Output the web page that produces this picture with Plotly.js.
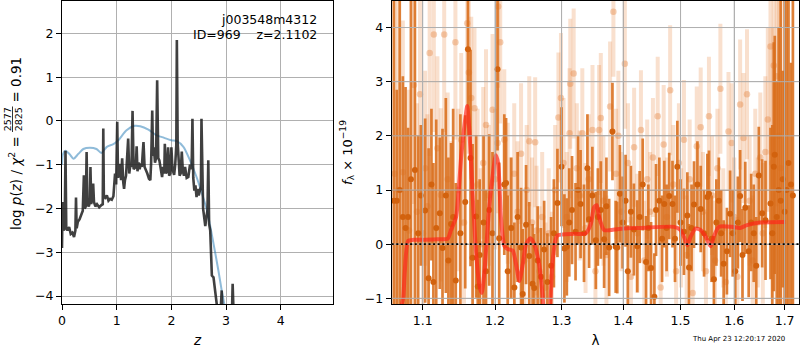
<!DOCTYPE html>
<html>
<head>
<meta charset="utf-8">
<script src="https://cdn.plot.ly/plotly-3.0.1.min.js"></script>
<style>html,body{margin:0;padding:0;background:#fff;}#chart{width:800px;height:350px;}</style>
</head>
<body>
<div id="chart"></div>
<script>
// ---------- left panel: log p(z) ----------
const zPz = [0.00,0.01,0.02,0.035,0.05,0.064,0.078,0.10,0.13,0.16,0.19,0.22,0.245,0.256,0.268,0.29,0.32,0.35,0.38,0.40,0.415,0.435,0.45,0.465,0.49,0.51,0.52,0.535,0.555,0.57,0.585,0.61,0.64,0.68,0.72,0.745,0.755,0.765,0.79,0.82,0.85,0.88,0.91,0.94,0.97,0.99,1.01,1.025,1.045,1.06,1.08,1.10,1.12,1.135,1.15,1.17,1.19,1.21,1.23,1.25,1.27,1.29,1.31,1.335,1.35,1.365,1.38,1.40,1.42,1.44,1.46,1.475,1.49,1.51,1.53,1.56,1.59,1.615,1.63,1.65,1.665,1.68,1.70,1.72,1.74,1.76,1.78,1.81,1.83,1.85,1.87,1.88,1.90,1.92,1.94,1.96,1.98,2.00,2.02,2.05,2.07,2.09,2.10,2.115,2.13,2.15,2.17,2.19,2.21,2.23,2.25,2.28,2.31,2.34,2.37,2.385,2.40,2.42,2.44,2.46,2.48,2.50,2.52,2.54,2.55,2.565,2.58,2.60,2.62,2.64,2.66,2.675,2.69,2.71,2.74,2.77,2.80,2.83,2.86,2.89,2.92,2.935,2.95,2.98,3.02,3.06,3.10,3.12,3.135,3.15,3.18,3.25];
const logPz = [-2.9,-1.85,-2.45,-2.5,-2.4,-0.68,-2.45,-2.5,-2.42,-2.58,-2.55,-2.65,-2.5,-1.75,-2.45,-2.3,-2.25,-2.15,-2.05,-1.24,-2.0,-1.95,-0.71,-1.9,-1.95,-1.85,-1.05,-1.9,-1.7,-1.43,-1.85,-1.95,-1.9,-1.97,-1.92,-1.9,-0.17,-1.7,-1.75,-1.7,-1.82,-1.78,-1.8,-1.72,-1.2,-1.45,-0.02,-1.3,-1.1,-0.98,-1.35,-0.85,-1.4,-1.55,-1.36,-1.25,-0.85,-0.4,-1.2,-0.99,-1.05,0.23,-1.1,-1.05,-1.05,-0.58,-1.15,-0.95,-1.1,-0.97,-1.05,-0.75,-0.48,-1.05,-1.1,-1.2,-1.32,-1.35,-0.95,0.24,-0.8,-0.6,-0.95,-0.85,0.93,-0.85,-0.9,-1.2,-1.28,-1.05,-1.2,-0.52,-1.2,-1.15,-0.6,-1.25,-1.2,-0.6,-1.1,-1.23,-1.0,-0.55,1.85,-0.5,-0.9,-1.25,-1.2,-0.7,-1.15,-1.25,-1.05,-1.3,-1.28,-1.0,-1.1,0.05,-1.3,-1.59,-1.47,-1.74,-1.55,-1.7,-1.6,-1.5,0.05,-1.4,-2.0,-2.2,-2.4,-2.2,-2.04,-0.9,-2.35,-2.5,-3.53,-3.57,-3.95,-4.25,-4.5,-4.6,-3.87,-4.4,-4.8,-5.0,-5.0,-5.0,-4.8,-3.72,-4.3,-5.0,-6.0,-8.0];
const zPrior = [0.00,0.02,0.06,0.14,0.21,0.30,0.39,0.51,0.63,0.72,0.82,0.94,1.03,1.18,1.33,1.43,1.58,1.73,1.83,2.00,2.10,2.22,2.34,2.46,2.56,2.65,2.77,2.86,2.92,2.97,3.05];
const logPrior = [-1.0,-0.75,-0.68,-0.76,-0.86,-0.75,-0.64,-0.61,-0.64,-0.73,-0.59,-0.53,-0.44,-0.21,-0.11,-0.12,-0.2,-0.33,-0.37,-0.44,-0.46,-0.59,-0.9,-1.28,-1.66,-2.04,-2.8,-3.42,-3.87,-4.2,-4.8];
const zTicks = [0,1,2,3,4];
const pzTicks = [-4,-3,-2,-1,0,1,2];

// ---------- right panel: spectrum ----------
const lamDark = [1.0625,1.0662,1.0700,1.0740,1.0775,1.0808,1.0845,1.0897,1.094,1.0975,1.1032,1.1078,1.1116,1.1142,1.118,1.1228,1.1265,1.131,1.1345,1.1381,1.141,1.1446,1.151,1.1577,1.1615,1.1651,1.168,1.173,1.1753,1.178,1.1835,1.187,1.1916,1.1963,1.2036,1.206,1.2134,1.216,1.2184,1.2235,1.2282,1.2330,1.2381,1.2406,1.2456,1.2504,1.2554,1.2579,1.263,1.268,1.273,1.278,1.2837,1.288,1.2935,1.2999,1.3044,1.3082,1.312,1.3164,1.322,1.326,1.33,1.3355,1.341,1.3437,1.349,1.3546,1.358,1.3628,1.3682,1.372,1.3765,1.382,1.3874,1.39,1.3944,1.399,1.404,1.4078,1.413,1.4181,1.4239,1.428,1.4332,1.439,1.443,1.4477,1.4535,1.4564,1.4622,1.467,1.4709,1.475,1.4797,1.4855,1.490,1.4942,1.500,1.5061,1.5123,1.5153,1.520,1.5245,1.5307,1.5368,1.543,1.5492,1.5522,1.557,1.5614,1.566,1.5706,1.575,1.5798,1.586,1.5921,1.597,1.602,1.607,1.6114,1.616,1.6214,1.6281,1.633,1.638,1.643,1.648,1.6547,1.6614,1.6714,1.675,1.678,1.68,1.684,1.688,1.692,1.696,1.700,1.704,1.708,1.713,1.717];
const fluxDark = [0.8,0.8,1.0,0.5,0.3,0.5,1.2,1.37,0.2,0.9,0.62,-0.63,1.1,-0.7,0.3,0.57,-0.07,0.9,-0.3,0.37,0.5,-0.67,0.2,0.78,3.6,1.59,-0.25,0.51,-0.78,-0.2,0.4,-0.5,0.63,0.2,3.23,0.11,1.1,1.13,-0.5,0.3,-0.8,0.5,-0.06,-0.92,0.36,-0.22,-0.73,-0.81,-0.3,-0.6,-0.1,-0.7,-0.4,0.2,0.76,1.43,-0.08,-0.05,0.4,0.63,0.23,1.0,0.74,0.2,1.4,0.46,0.9,0.07,0.5,0.63,0.09,0.7,-0.06,2.08,-0.05,-0.06,0.93,0.4,0.8,-0.5,0.6,0.27,-0.04,0.5,1.1,-0.33,0.3,-0.44,-0.97,0.63,0.8,0.1,0.74,0.3,0.89,0.74,0.1,1.43,0.4,0.23,0.53,-0.43,0.3,0.73,1.1,0.65,0.2,0.87,0.93,0.1,-0.65,0.4,0.8,0.2,-0.36,-0.13,0.56,0.2,-0.5,0.4,0.89,-0.2,0.67,-0.13,0.4,0.2,-0.4,1.27,0.57,0.44,0.75,0.2,1.43,1.65,0.5,1.0,0.8,1.2,0.6,1.0,1.5,1.1,0.9];
const errDark = [4.5,2.05,4.5,2.6,2.6,1.65,4.0,3.4,1.8,1.3,1.7,2.4,1.4,2.2,2.0,1.4,2.2,1.8,1.9,1.5,2.0,1.8,2.2,1.6,1.6,2.0,2.1,1.5,1.6,1.4,1.6,1.5,1.4,1.5,1.5,1.4,1.3,1.2,1.4,1.3,1.2,1.2,1.1,1.2,1.1,1.0,1.1,1.0,1.0,0.9,0.9,0.9,0.9,1.0,1.0,1.1,1.0,0.9,1.0,1.0,0.9,1.0,1.0,0.9,1.0,0.9,0.9,0.9,0.9,0.9,0.9,0.9,0.9,0.9,0.85,0.85,0.9,0.85,0.85,0.85,0.85,0.85,0.85,0.85,0.85,0.85,0.8,0.85,0.8,0.85,0.8,0.8,0.8,0.8,0.8,0.8,0.8,0.85,0.8,0.8,0.8,0.8,0.8,0.8,0.8,0.8,0.8,0.8,0.8,0.8,0.8,0.8,0.8,0.8,0.8,0.8,0.8,0.8,0.85,0.85,0.85,0.85,0.85,0.85,0.9,0.9,0.9,0.9,1.0,1.1,1.4,2.0,2.3,2.2,2.5,3.0,4.5,2.0,5.0,5.0,5.0,2.25,5.0];

const lamLight = [1.0635,1.068,1.074,1.082,1.0884,1.0925,1.0964,1.1003,1.1032,1.1062,1.1092,1.1148,1.1196,1.1242,1.1288,1.1335,1.1385,1.1441,1.148,1.1521,1.156,1.1605,1.1628,1.1661,1.1707,1.175,1.1795,1.183,1.187,1.191,1.1964,1.2,1.2036,1.2045,1.2075,1.2134,1.2184,1.223,1.228,1.233,1.2381,1.243,1.2465,1.2504,1.2545,1.2593,1.2614,1.266,1.270,1.275,1.28,1.285,1.29,1.295,1.299,1.303,1.308,1.3125,1.3136,1.319,1.324,1.3285,1.3328,1.338,1.343,1.3492,1.354,1.36,1.3628,1.367,1.372,1.3781,1.3836,1.388,1.3918,1.397,1.4028,1.408,1.413,1.4185,1.424,1.4302,1.436,1.441,1.446,1.451,1.4593,1.4645,1.4698,1.4755,1.4813,1.487,1.492,1.497,1.501,1.5061,1.511,1.5165,1.522,1.5295,1.5368,1.541,1.5465,1.5521,1.558,1.5635,1.568,1.5736,1.579,1.584,1.589,1.5952,1.6,1.606,1.6114,1.618,1.6248,1.63,1.636,1.641,1.646,1.651,1.656,1.661,1.666,1.6714,1.675,1.678,1.684,1.688,1.692];
const fluxLight = [1.3,1.0,1.33,0.25,2.94,0.6,2.77,0.2,1.4,0.7,3.53,3.87,1.77,0.91,3.87,1.2,0.3,3.73,1.0,1.93,0.4,4.08,3.17,2.7,2.51,1.1,0.0,1.5,2.2,0.9,2.48,1.2,1.87,4.39,3.73,1.93,0.94,0.3,1.3,0.6,1.67,-0.3,1.0,1.9,0.4,1.88,0.25,-0.5,0.5,-0.8,0.2,-0.6,1.0,2.34,2.7,1.5,0.5,2.05,2.96,3.15,1.4,0.9,2.05,0.3,1.2,2.11,-0.5,2.11,2.33,0.8,-0.2,2.54,4.29,1.3,2.0,0.6,3.33,1.5,-0.6,1.79,0.2,2.11,-0.3,1.2,0.6,1.6,2.36,-0.8,1.84,0.5,2.84,1.1,-0.5,1.5,0.3,1.93,-0.2,1.2,-0.9,1.81,2.16,0.6,-0.5,2.36,0.9,-0.3,1.4,2.87,0.3,-0.7,2.08,1.87,0.5,-0.6,2.58,1.96,2.77,0.8,-0.3,1.3,0.4,1.6,0.2,1.7,2.3,3.65,1.5,3.3,3.1,2.0,1.4];
const errLight = [4.5,3.5,2.8,2.6,2.2,2.0,1.9,1.8,1.8,1.7,1.9,1.8,1.7,1.6,1.8,1.6,1.6,1.8,1.5,1.6,1.5,1.6,1.5,1.5,1.5,1.4,1.4,1.4,1.4,1.3,1.4,1.3,1.3,1.5,1.5,1.3,1.3,1.3,1.3,1.3,1.3,1.3,1.2,1.2,1.2,1.2,1.2,1.2,1.2,1.2,1.2,1.2,1.2,1.2,1.2,1.2,1.2,1.2,1.2,1.2,1.2,1.2,1.2,1.2,1.2,1.2,1.2,1.2,1.2,1.2,1.1,1.2,1.2,1.2,1.2,1.1,1.2,1.1,1.1,1.1,1.1,1.1,1.1,1.1,1.1,1.1,1.1,1.1,1.1,1.1,1.2,1.1,1.1,1.1,1.1,1.1,1.1,1.1,1.1,1.1,1.1,1.1,1.1,1.1,1.1,1.1,1.1,1.2,1.1,1.1,1.1,1.1,1.1,1.1,1.2,1.2,1.2,1.2,1.2,1.2,1.2,1.2,1.3,1.4,1.7,2.0,2.5,2.3,2.4,3.0,3.2];

const lamModel = [1.072,1.0745,1.0764,1.0808,1.0875,1.10,1.12,1.1335,1.138,1.145,1.152,1.1567,1.1605,1.1637,1.1684,1.173,1.1777,1.181,1.1846,1.1916,1.1963,1.201,1.2045,1.2085,1.2134,1.2184,1.2258,1.2307,1.2356,1.2407,1.2456,1.252,1.2579,1.2653,1.2704,1.2727,1.2801,1.2852,1.2901,1.2935,1.319,1.3382,1.3464,1.3518,1.3562,1.36,1.3682,1.3792,1.401,1.4303,1.4884,1.5,1.506,1.5123,1.5184,1.5276,1.5368,1.546,1.5552,1.5613,1.5705,1.595,1.6114,1.6248,1.6514,1.7014];
const fluxModel = [-1.15,-1.0,-0.53,0.06,0.08,0.08,0.09,0.1,0.26,0.5,1.6,2.2,2.55,2.05,0.82,-0.16,-0.78,-0.9,-0.53,0.69,1.24,1.64,1.49,0.5,-0.03,-0.09,-0.12,-0.37,-0.68,-0.37,0.0,0.11,0.0,-0.37,-0.92,-1.2,-1.3,-0.43,0.06,0.16,0.19,0.2,0.37,0.68,0.72,0.5,0.26,0.26,0.29,0.3,0.32,0.26,0.14,-0.02,0.14,0.29,0.26,0.14,-0.04,0.14,0.32,0.32,0.3,0.35,0.4,0.41];
const lamTicks = [1.1,1.2,1.3,1.4,1.5,1.6,1.7];
const fluxTicks = [-1,0,1,2,3,4];

const objName = 'j003548m4312';
const idLine = 'ID=969\u00a0\u00a0\u00a0\u00a0z=2.1102';
const stamp = 'Thu Apr 23 12:20:17 2020';

// ---------- helpers (layout pixel -> paper) ----------
const W = 800, H = 350;
const px = x => x / W;
const py = y => 1 - y / H;
const FONT = 'DejaVu Sans, sans-serif';

const darkOr = 'rgba(218,110,28,0.88)';
const darkDot = 'rgb(210,98,14)';
const lightBar = 'rgba(228,126,52,0.24)';
const lightDot = 'rgba(228,126,52,0.36)';

const traces = [
  {x: zPrior, y: logPrior, xaxis: 'x', yaxis: 'y', mode: 'lines',
   line: {color: 'rgba(31,119,180,0.5)', width: 2, shape: 'spline', smoothing: 0.8}, hoverinfo: 'skip'},
  {x: zPz, y: logPz, xaxis: 'x', yaxis: 'y', mode: 'lines',
   line: {color: 'rgba(30,30,30,0.85)', width: 2.6}, hoverinfo: 'skip'},
  {x: lamLight, y: fluxLight, xaxis: 'x2', yaxis: 'y2', mode: 'markers',
   marker: {color: lightDot, size: 6.5},
   error_y: {type: 'data', array: errLight, visible: true, thickness: 4, width: 0, color: lightBar}, hoverinfo: 'skip'},
  {x: lamDark, y: fluxDark, xaxis: 'x2', yaxis: 'y2', mode: 'markers',
   marker: {color: darkDot, size: 6},
   error_y: {type: 'data', array: errDark, visible: true, thickness: 2.7, width: 0, color: darkOr}, hoverinfo: 'skip'},
  {x: lamModel, y: fluxModel, xaxis: 'x2', yaxis: 'y2', mode: 'lines',
   line: {color: 'rgba(255,35,25,0.68)', width: 4, shape: 'spline', smoothing: 0.6}, hoverinfo: 'skip'}
];

const axisCommon = {
  showline: true, linecolor: 'black', linewidth: 1, mirror: true,
  ticks: 'outside', ticklen: 5, tickwidth: 1, tickcolor: 'black',
  showgrid: true, gridcolor: '#b0b0b0', gridwidth: 1, zeroline: false,
  tickfont: {family: FONT, size: 12.5, color: 'black'}, automargin: false
};

const gridShapes = [];
lamTicks.forEach(v => gridShapes.push({type: 'line', xref: 'x2', yref: 'y2 domain', x0: v, x1: v, y0: 0, y1: 1,
  line: {color: '#b0b0b0', width: 1}, layer: 'above'}));
fluxTicks.forEach(v => gridShapes.push({type: 'line', xref: 'x2 domain', yref: 'y2', x0: 0, x1: 1, y0: v, y1: v,
  line: {color: '#b0b0b0', width: 1}, layer: 'above'}));

const layout = {
  width: W, height: H,
  margin: {l: 0, r: 0, t: 0, b: 0},
  paper_bgcolor: 'white', plot_bgcolor: 'white',
  showlegend: false,
  font: {family: FONT, size: 12.5, color: 'black'},
  xaxis: Object.assign({}, axisCommon, {domain: [px(62), px(333)], range: [0, 4.955],
    tickvals: zTicks, ticktext: zTicks.map(String), anchor: 'y',
    title: {text: '<i>z</i>', font: {family: FONT, size: 13.5}, standoff: 8}}),
  yaxis: Object.assign({}, axisCommon, {domain: [py(304), py(1)], range: [-4.18, 2.74],
    tickvals: pzTicks, anchor: 'x'}),
  xaxis2: Object.assign({}, axisCommon, {domain: [px(391.7), px(799.3)], type: 'log',
    range: [Math.log10(1.0597), Math.log10(1.7303)], tickvals: lamTicks, ticktext: lamTicks.map(v => v.toFixed(1)), anchor: 'y2',
    title: {text: 'λ', font: {family: FONT, size: 13.5}, standoff: 8}}),
  yaxis2: Object.assign({}, axisCommon, {domain: [py(304), py(1)], range: [-1.105, 4.49],
    tickvals: fluxTicks, anchor: 'x2',
    title: {text: '<i>f</i><sub>λ</sub> × 10<sup>−19</sup>', font: {family: FONT, size: 13}, standoff: 9}}),
  shapes: gridShapes.concat([
    {type: 'line', xref: 'x2 domain', yref: 'y2', x0: 0, x1: 1, y0: 0, y1: 0,
     line: {color: 'black', width: 1.8, dash: '2px,2.6px'}, layer: 'above'},
    {type: 'line', xref: 'paper', yref: 'paper', x0: px(12.5), x1: px(12.5), y0: py(132), y1: py(106.5),
     line: {color: 'black', width: 0.8}}
  ]),
  annotations: [
    {xref: 'paper', yref: 'paper', x: px(318.5), y: py(19.5), xanchor: 'right', yanchor: 'middle',
     text: objName, showarrow: false, font: {family: FONT, size: 12.5, color: 'black'}},
    {xref: 'paper', yref: 'paper', x: px(318.5), y: py(34), xanchor: 'right', yanchor: 'middle',
     text: idLine, showarrow: false, font: {family: FONT, size: 12.5, color: 'black'}},
    {xref: 'paper', yref: 'paper', x: px(15), y: py(134), xanchor: 'center', yanchor: 'top', textangle: -90,
     text: 'log <i>p</i>(<i>z</i>) / <i>χ</i><sup>2</sup> =', showarrow: false, font: {family: FONT, size: 13.5, color: 'black'}},
    {xref: 'paper', yref: 'paper', x: px(7), y: py(119.3), xanchor: 'center', yanchor: 'middle', textangle: -90,
     text: '2577', showarrow: false, font: {family: FONT, size: 9.5, color: 'black'}},
    {xref: 'paper', yref: 'paper', x: px(18), y: py(119.3), xanchor: 'center', yanchor: 'middle', textangle: -90,
     text: '2825', showarrow: false, font: {family: FONT, size: 9.5, color: 'black'}},
    {xref: 'paper', yref: 'paper', x: px(15), y: py(104.5), xanchor: 'center', yanchor: 'bottom', textangle: -90,
     text: '= 0.91', showarrow: false, font: {family: FONT, size: 13.5, color: 'black'}},
    {xref: 'paper', yref: 'paper', x: px(787), y: py(339), xanchor: 'right', yanchor: 'middle',
     text: stamp, showarrow: false, font: {family: FONT, size: 7, color: 'black'}}
  ]
};

Plotly.newPlot('chart', traces, layout, {displayModeBar: false, staticPlot: true});
</script>
</body>
</html>
